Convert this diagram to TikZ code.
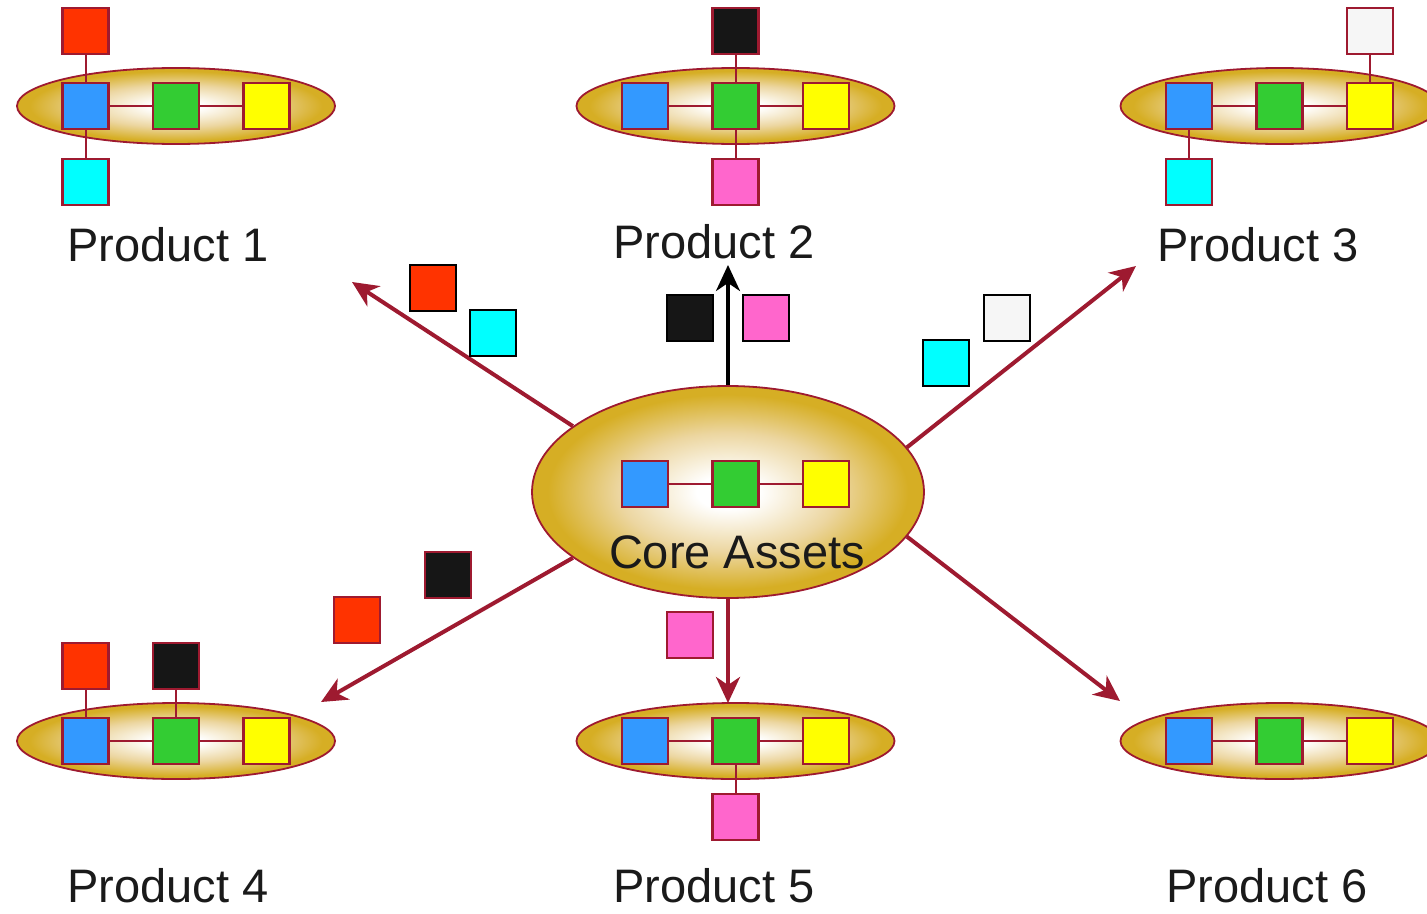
\documentclass[tikz,border=0pt]{standalone}
\usepackage{fontspec}
\setmainfont{Liberation Sans}
\usetikzlibrary{shapes.geometric,arrows.meta}
\definecolor{mar}{RGB}{158,26,48}
\definecolor{gold}{RGB}{214,174,36}
\definecolor{goldmid}{RGB}{236,214,160}
\definecolor{cred}{RGB}{255,51,0}
\definecolor{cblue}{RGB}{51,153,255}
\definecolor{cgreen}{RGB}{51,204,51}
\definecolor{cyellow}{RGB}{255,255,0}
\definecolor{ccyan}{RGB}{0,255,255}
\definecolor{cpink}{RGB}{255,102,204}
\definecolor{cblack}{RGB}{22,22,22}
\definecolor{cwhite}{RGB}{246,246,246}
\definecolor{txt}{RGB}{26,26,26}
\pgfdeclareradialshading{goldsh}{\pgfpoint{0bp}{0bp}}{color(0bp)=(white); color(4bp)=(white); color(14bp)=(goldmid); color(23bp)=(gold); color(50bp)=(gold)}
\newcommand\mkprod[3]{%
  \node[prod] (#1) at (#2,#3) {};
  \node[sq,fill=cblue] (#1b) at (#2-90.5,#3) {};
  \node[sq,fill=cgreen] (#1g) at (#2,#3) {};
  \node[sq,fill=cyellow] (#1y) at (#2+90.5,#3) {};
  \draw[link] (#1b) -- (#1g);
  \draw[link] (#1g) -- (#1y);
}
\begin{document}
\begin{tikzpicture}[x=1pt,y=-1pt,
  prod/.style={ellipse, minimum width=318pt, minimum height=76pt, inner sep=0pt, draw=mar, line width=1.8pt, shading=goldsh},
  coreel/.style={ellipse, minimum width=392pt, minimum height=212pt, inner sep=0pt, draw=mar, line width=1.8pt, shading=goldsh},
  sq/.style={minimum size=46pt, inner sep=0pt, draw=mar, line width=2.2pt},
  sqk/.style={sq, draw=black},
  link/.style={draw=mar, line width=2pt},
  arr/.style={draw=mar, line width=4pt, -{Stealth[length=26pt,width=24pt,inset=8pt]}},
  lab/.style={anchor=base, text=txt, inner sep=0pt, font=\fontsize{47}{56}\selectfont}]
\useasboundingbox (0,0) rectangle (1427,913);
\clip (0,0) rectangle (1427,913);
% Product 1
\mkprod{pa}{176}{106}
\node[sq,fill=cred] (pa1) at (85.5,31) {};
\node[sq,fill=ccyan] (pa2) at (85.5,182) {};
\draw[link] (pa1) -- (pab);
\draw[link] (pab) -- (pa2);
\node[lab] (la) at (168,261) {Product 1};
% Product 2
\mkprod{pb}{735.5}{106}
\node[sq,fill=cblack] (pb1) at (735.5,31) {};
\node[sq,fill=cpink] (pb2) at (735.5,182) {};
\draw[link] (pb1) -- (pbg);
\draw[link] (pbg) -- (pb2);
\node[lab] (lb) at (714,258) {Product 2};
% Product 3
\mkprod{pc}{1279.5}{106}
\node[sq,fill=cwhite] (pc1) at (1370,31) {};
\node[sq,fill=ccyan] (pc2) at (1189,182) {};
\draw[link] (pc1) -- (pcy);
\draw[link] (pcb) -- (pc2);
\node[lab] (lc) at (1258,261) {Product 3};
% Product 4
\mkprod{pd}{176}{741}
\node[sq,fill=cred] (pd1) at (85.5,666) {};
\node[sq,fill=cblack] (pd2) at (176,666) {};
\draw[link] (pd1) -- (pdb);
\draw[link] (pd2) -- (pdg);
\node[lab] (ld) at (168,902) {Product 4};
% Product 5
\mkprod{pe}{735.5}{741}
\node[sq,fill=cpink] (pe1) at (735.5,817) {};
\draw[link] (peg) -- (pe1);
\node[lab] (le) at (714,902) {Product 5};
% Product 6
\mkprod{pf}{1279.5}{741}
\node[lab] (lf) at (1267,902) {Product 6};
% Core
\node[coreel] (core) at (728,492) {};
\node[sq,fill=cblue] (cb) at (645,484) {};
\node[sq,fill=cgreen] (cg) at (735.5,484) {};
\node[sq,fill=cyellow] (cy) at (826,484) {};
\draw[link] (cb) -- (cg);
\draw[link] (cg) -- (cy);
\node[lab] (lcore) at (737,568) {Core Assets};
% Arrows
\coordinate (t1) at (352,282);
\coordinate (t2) at (728,265);
\coordinate (t3) at (1136,266);
\coordinate (t4) at (321,702);
\coordinate (t5) at (728,703);
\coordinate (t6) at (1120,701);
\draw[arr] (core.157) -- (t1);
\draw[arr, draw=black, line width=3.5pt] (core.north) -- (t2);
\draw[arr] (core.14) -- (t3);
\draw[arr] (core.203) -- (t4);
\draw[arr] (core.south) -- (t5);
\draw[arr] (core.346) -- (t6);
% Floating squares
\node[sqk,fill=cred] (f1a) at (433,288) {};
\node[sqk,fill=ccyan] (f1b) at (493,333) {};
\node[sqk,fill=cblack] (f2a) at (690,318) {};
\node[sqk,fill=cpink] (f2b) at (766,318) {};
\node[sqk,fill=ccyan] (f3a) at (946,363) {};
\node[sqk,fill=cwhite] (f3b) at (1007,318) {};
\node[sq,fill=cred] (f4a) at (357,620) {};
\node[sq,fill=cblack] (f4b) at (448,575) {};
\node[sq,fill=cpink] (f5a) at (690,635) {};
\end{tikzpicture}
\end{document}
